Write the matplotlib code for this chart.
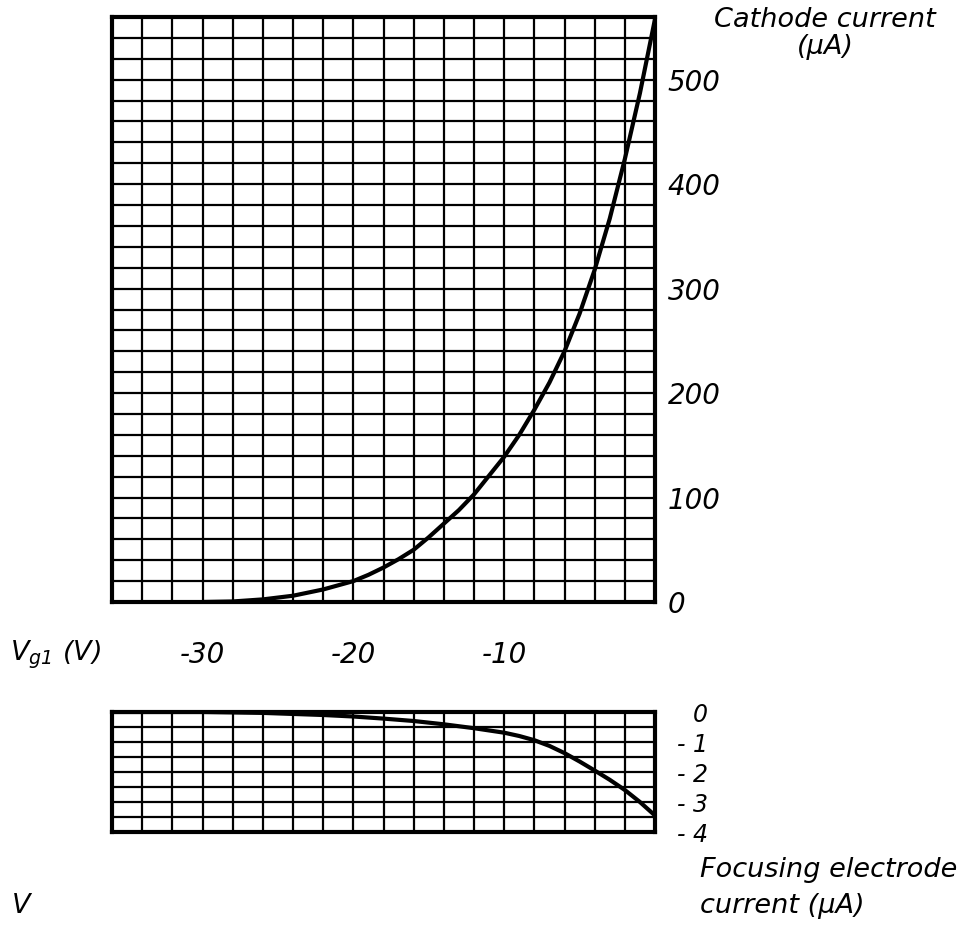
import matplotlib
matplotlib.use("Agg")
import matplotlib.pyplot as plt
import numpy as np

# grid voltage Vg1 (V)
vg1_cathode = [-30, -28, -26, -24, -22, -20, -19, -18, -17, -16, -15, -14, -13, -12, -11,
               -10, -9, -8, -7, -6, -5, -4, -3, -2, -1, 0]
# cathode current (uA)
i_cathode = [0, 0.5, 2.5, 6, 12, 20, 26, 33, 41, 50, 62, 75, 88, 103, 121,
             139, 160, 184, 210, 240, 276, 318, 367, 424, 487, 558]

vg1_focus = [-36, -30, -26, -22, -20, -18, -16, -14, -12, -10, -9, -8, -7, -6, -5, -4, -3, -2, -1, 0]
# focusing electrode current (uA)
i_focus = [0, 0, -0.03, -0.1, -0.15, -0.22, -0.3, -0.41, -0.54, -0.69, -0.8, -0.94, -1.13, -1.37,
           -1.65, -1.95, -2.26, -2.6, -3.0, -3.45]

x_labels = ["-30", "-20", "-10"]
top_yticks = [0, 100, 200, 300, 400, 500]
bot_ylabels = ["0", "- 1", "- 2", "- 3", "- 4"]

plt.rcParams['font.family'] = 'DejaVu Sans'
plt.rcParams['font.style'] = 'italic'

W, H = 967, 930
fig = plt.figure(figsize=(W / 100, H / 100), dpi=100)

def box(l, t, r, b):
    return [l / W, (H - b) / H, (r - l) / W, (b - t) / H]

ax = fig.add_axes(box(112, 17, 655, 602))
ax2 = fig.add_axes(box(112, 712, 655, 832))

for a in (ax, ax2):
    a.set_xlim(-36, 0)
    a.set_xticks(np.arange(-36, 0.1, 2), minor=True)
    a.grid(which='both', color='black', linewidth=1.6)
    a.set_axisbelow(True)
    a.tick_params(which='both', length=0)
    for s in a.spines.values():
        s.set_linewidth(3)
    a.yaxis.tick_right()

# top panel
ax.set_ylim(0, 560)
ax.set_yticks(np.arange(0, 561, 20), minor=True)
ax.set_yticks(top_yticks)
ax.set_yticklabels([str(v) for v in top_yticks], fontsize=20)
ax.tick_params(axis='y', pad=9)
ax.set_xticks([-30, -20, -10])
ax.set_xticklabels(x_labels, fontsize=20)
ax.tick_params(axis='x', pad=28)
ax.plot(vg1_cathode, i_cathode, color='black', linewidth=3, solid_capstyle='round')

# bottom panel
ax2.set_ylim(-4, 0)
ax2.set_yticks(np.arange(-4, 0.01, 0.5), minor=True)
ax2.set_yticks([0, -1, -2, -3, -4])
ax2.set_yticklabels(bot_ylabels, fontsize=17)
ax2.tick_params(axis='y', pad=38)
for lab in ax2.get_yticklabels():
    lab.set_horizontalalignment('right')
ax2.set_xticks([-30, -20, -10])
ax2.set_xticklabels([])
ax2.plot(vg1_focus, i_focus, color='black', linewidth=3, solid_capstyle='round')

fs = 19.5
fig.text(825 / W, 1 - 20 / H, "Cathode current", fontsize=fs, ha='center', va='center')
fig.text(825 / W, 1 - 47 / H, "(\u03bcA)", fontsize=fs, ha='center', va='center')
fig.text(10 / W, 1 - 655 / H, "$V_{g1}$ (V)", fontsize=fs, ha='left', va='center')
fig.text(700 / W, 1 - 870 / H, "Focusing electrode", fontsize=fs, ha='left', va='center')
fig.text(700 / W, 1 - 906 / H, "current (\u03bcA)", fontsize=fs, ha='left', va='center')
fig.text(12 / W, 1 - 906 / H, "V", fontsize=fs, ha='left', va='center')

fig.savefig("out.png", dpi=100)
